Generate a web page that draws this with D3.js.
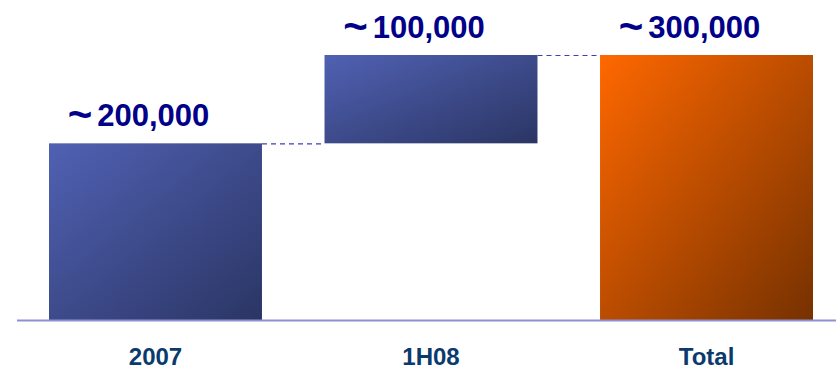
<!DOCTYPE html>
<html>
<head>
<meta charset="utf-8">
<script src="https://cdn.jsdelivr.net/npm/d3@7/dist/d3.min.js"></script>
<style>
  html, body { margin: 0; padding: 0; background: #ffffff; }
  svg { display: block; }
</style>
</head>
<body>
<svg id="chart" width="836" height="369"></svg>
<script>
const categories = ["2007", "1H08", "Total"];
const starts = [0, 200000, 0];
const ends = [200000, 300000, 300000];
const valueLabels = ["200,000", "100,000", "300,000"];
const approxSign = "~";
const yMax = 300000;

const svg = d3.select("#chart");
const W = 836, H = 369;

const x = d3.scaleBand().domain(categories).range([49, 813]).paddingInner(0.227).paddingOuter(0);
const y = d3.scaleLinear().domain([0, yMax]).range([320, 55]);

const defs = svg.append("defs");
function grad(id, c0, c1) {
  const g = defs.append("linearGradient").attr("id", id)
    .attr("x1", 0).attr("y1", 0).attr("x2", 1).attr("y2", 1);
  g.append("stop").attr("offset", "0%").attr("stop-color", c0);
  g.append("stop").attr("offset", "100%").attr("stop-color", c1);
}
grad("gBlue", "#5061b3", "#2b3564");
grad("gOrange", "#ff6800", "#763100");

const fills = ["url(#gBlue)", "url(#gBlue)", "url(#gOrange)"];

// bars
svg.selectAll("rect.bar").data(categories).enter().append("rect")
  .attr("class", "bar")
  .attr("x", d => x(d))
  .attr("width", x.bandwidth())
  .attr("y", (d, i) => y(ends[i]))
  .attr("height", (d, i) => y(starts[i]) - y(ends[i]))
  .attr("fill", (d, i) => fills[i]);

// connectors
for (let i = 0; i < categories.length - 1; i++) {
  svg.append("line")
    .attr("x1", x(categories[i]) + x.bandwidth())
    .attr("x2", x(categories[i + 1]))
    .attr("y1", y(ends[i]) + 0.5)
    .attr("y2", y(ends[i]) + 0.5)
    .attr("stroke", "#3c3cc4")
    .attr("stroke-width", 1.2)
    .attr("stroke-dasharray", "5,4");
}

// baseline
svg.append("line")
  .attr("x1", 17).attr("x2", 836)
  .attr("y1", y(0) + 0.5).attr("y2", y(0) + 0.5)
  .attr("stroke", "#8f8fd2").attr("stroke-width", 2);

// value labels
const vt = svg.selectAll("text.val").data(categories).enter().append("text")
  .attr("class", "val")
  .attr("x", d => x(d) + x.bandwidth() / 2 - 17)
  .attr("y", (d, i) => y(ends[i]) - 17)
  .attr("text-anchor", "middle")
  .attr("font-family", "Arial, 'Liberation Sans', sans-serif")
  .attr("font-weight", "bold")
  .attr("fill", "#000088");
vt.append("tspan").attr("font-size", 42).attr("dy", 3).text(approxSign);
vt.append("tspan").attr("font-size", 31).attr("dy", -3).attr("dx", 5).text((d, i) => valueLabels[i]);

// category labels
const xAxis = d3.axisBottom(x).tickSize(0).tickPadding(0);
const ax = svg.append("g").attr("transform", `translate(0, ${H - 4})`).call(xAxis);
ax.select(".domain").remove();
ax.selectAll("text")
  .attr("dy", 0)
  .attr("font-family", "Arial, 'Liberation Sans', sans-serif")
  .attr("font-weight", "bold")
  .attr("font-size", 24)
  .attr("fill", "#0a3a6e");
</script>
</body>
</html>
